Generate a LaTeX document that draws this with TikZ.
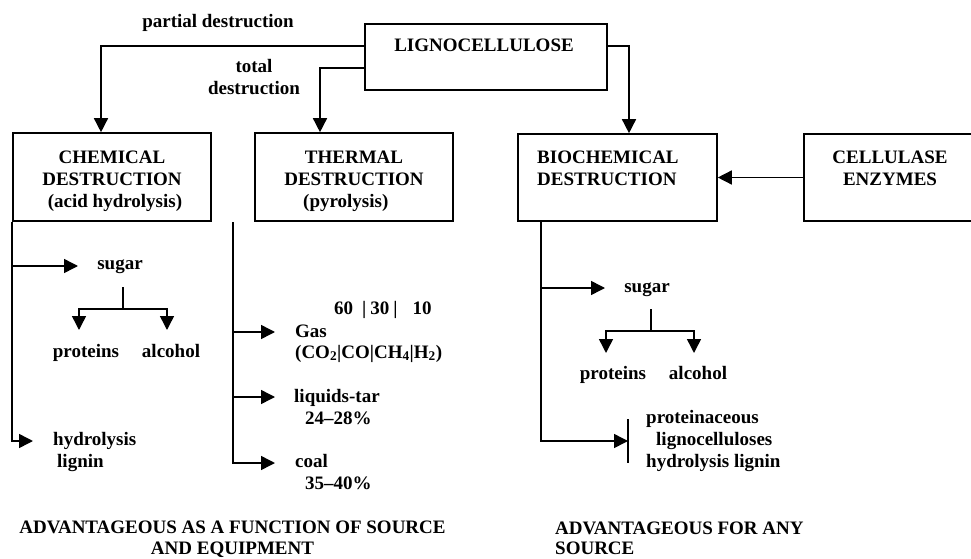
\documentclass[tikz,border=0pt]{standalone}
\usepackage{fontspec}
\setmainfont{Liberation Serif}
\usetikzlibrary{arrows.meta}
\begin{document}
\begin{tikzpicture}[x=1pt,y=-1pt,
  ln/.style={line width=1.5pt},
  arr/.style={ln,-{Triangle[length=14pt,width=14pt]}},
  pbox/.style 2 args={draw,line width=1.6pt,minimum width=#1,minimum height=#2,inner sep=0pt},
  txt/.style={inner sep=0pt,font=\fontsize{19}{22}\selectfont\bfseries},
  ctr/.style={txt,anchor=base},
  lft/.style={txt,anchor=base west}]
\clip (0,0) rectangle (971,559);
% boxes
\node[pbox={242pt}{66pt}] (lig) at (486,57) {};
\node[pbox={198pt}{88pt}] (chem) at (112,177) {};
\node[pbox={198pt}{88pt}] (therm) at (354,177) {};
\node[pbox={199pt}{87pt}] (bio) at (617.5,177.5) {};
\node[pbox={171pt}{87pt}] (cell) at (889.5,177.5) {};
% box texts
\node[ctr] (ligT) at (484,52) {LIGNOCELLULOSE};
\node[ctr] (chemT1) at (112,163) {CHEMICAL};
\node[ctr] (chemT2) at (112,185) {DESTRUCTION};
\node[ctr] (chemT3) at (115,207) {(acid hydrolysis)};
\node[ctr] (thermT1) at (354,163) {THERMAL};
\node[ctr] (thermT2) at (354,185) {DESTRUCTION};
\node[lft] (thermT3) at (303,207) {(pyrolysis)};
\node[lft] (bioT1) at (537,163) {BIOCHEMICAL};
\node[lft] (bioT2) at (537,185) {DESTRUCTION};
\node[ctr] (cellT1) at (890,163) {CELLULASE};
\node[ctr] (cellT2) at (890,185) {ENZYMES};
% top labels
\node[ctr] (partial) at (218,28) {partial destruction};
\node[ctr] (total1) at (254,73) {total};
\node[ctr] (total2) at (254,95) {destruction};
% top connectors
\draw[arr] (lig.west |- 0,46) -| (101,0 |- chem.north);
\draw[arr] (lig.west |- 0,68) -| (320,0 |- therm.north);
\draw[arr] (lig.east |- 0,46) -| (629,0 |- bio.north);
\draw[arr] (cell.west) -- (bio.east);
% chemical branch
\node[ctr] (cSugar) at (120,269) {sugar};
\node[ctr] (cProt) at (86,357) {proteins};
\node[ctr] (cAlc) at (171,357) {alcohol};
\node[lft] (cHyd1) at (53,445) {hydrolysis};
\node[lft] (cHyd2) at (57,467) {lignin};
\coordinate (cs) at (78,266);
\coordinate (chl) at (33,441);
\coordinate (cs1) at (123,287);
\coordinate (csp) at (79,330);
\coordinate (csa) at (167,330);
\draw[arr] (chem.south west) |- (chl);
\draw[arr] (chem.south west |- cs) -- (cs);
\draw[arr] (cs1) -- ++(0,22) -| (csp);
\draw[arr] (cs1) -- ++(0,22) -| (csa);
% thermal branch
\node[lft] (tRatio) at (334,314) {60\hspace{9pt}|\hspace{4pt}30\hspace{4pt}|\hspace{15pt}10};
\node[lft] (tGas1) at (295,337) {Gas};
\node[lft] (tGas2) at (295,358) {(CO\textsubscript{2}|CO|CH\textsubscript{4}|H\textsubscript{2})};
\node[lft] (tLiq1) at (294,402) {liquids-tar};
\node[lft] (tLiq2) at (305,424) {24--28\%};
\node[lft] (tCoal1) at (295,467) {coal};
\node[lft] (tCoal2) at (305,489) {35--40\%};
\coordinate (tv) at (233,222);
\coordinate (tgas) at (275,332);
\coordinate (tliq) at (275,397);
\coordinate (tcoal) at (275,463);
\draw[arr] (tv) |- (tcoal);
\draw[arr] (tv |- tgas) -- (tgas);
\draw[arr] (tv |- tliq) -- (tliq);
% biochemical branch
\node[ctr] (bSugar) at (647,292) {sugar};
\node[ctr] (bProt) at (613,379) {proteins};
\node[ctr] (bAlc) at (698,379) {alcohol};
\node[lft] (bRes1) at (646,423) {proteinaceous};
\node[lft] (bRes2) at (656,445) {lignocelluloses};
\node[lft] (bRes3) at (646,467) {hydrolysis lignin};
\coordinate (bv) at (541,222);
\coordinate (bs) at (605,288);
\coordinate (bpl) at (628,441);
\coordinate (bar1) at (628,419);
\coordinate (bar2) at (628,463);
\coordinate (bs1) at (651,309);
\coordinate (bsp) at (606,353);
\coordinate (bsa) at (694,353);
\draw[arr] (bv) |- (bpl);
\draw[arr] (bv |- bs) -- (bs);
\draw[ln] (bar1) -- (bar2);
\draw[arr] (bs1) -- ++(0,22) -| (bsp);
\draw[arr] (bs1) -- ++(0,22) -| (bsa);
% bottom captions
\node[ctr] (adv1) at (232.5,533) {ADVANTAGEOUS AS A FUNCTION OF SOURCE};
\node[ctr] (adv2) at (232.5,554) {AND EQUIPMENT};
\node[lft] (adv3) at (555,534) {ADVANTAGEOUS FOR ANY};
\node[lft] (adv4) at (555,554) {SOURCE};
\end{tikzpicture}
\end{document}
